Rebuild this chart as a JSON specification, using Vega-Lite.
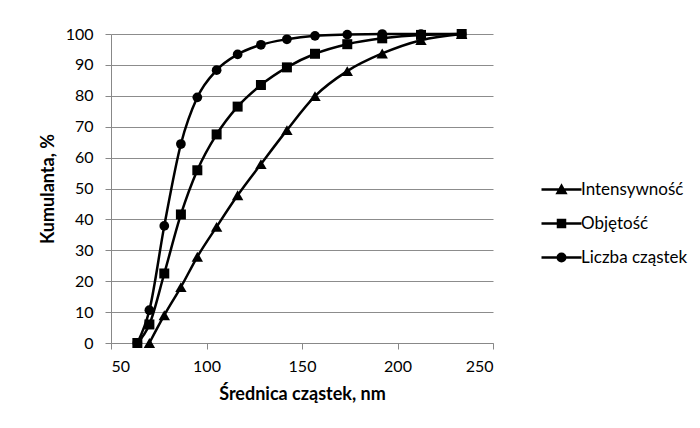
{
  "$schema": "https://vega.github.io/schema/vega-lite/v6.json",
  "width": 382,
  "height": 309,
  "autosize": "none",
  "padding": {"left": 111, "top": 34, "right": 207, "bottom": 85},
  "background": "white",
  "config": {
    "font": "Lato",
    "view": {"stroke": null},
    "axis": {
      "labelFont": "Lato", "labelFontSize": 16, "labelColor": "#000000",
      "titleFont": "Lato", "titleFontSize": 18, "titleFontWeight": "bold", "titleColor": "#000000",
      "domainColor": "#888888", "tickColor": "#888888", "gridColor": "#8c8c8c",
      "tickSize": 6, "domainWidth": 1, "tickWidth": 1, "gridWidth": 1
    }
  },
  "data": {
    "values": [
      {"d": 63.8, "v": 0, "s": "Liczba cząstek"},
      {"d": 70.1, "v": 10.6, "s": "Liczba cząstek"},
      {"d": 77.9, "v": 37.9, "s": "Liczba cząstek"},
      {"d": 86.6, "v": 64.4, "s": "Liczba cząstek"},
      {"d": 95.2, "v": 79.5, "s": "Liczba cząstek"},
      {"d": 105.3, "v": 88.3, "s": "Liczba cząstek"},
      {"d": 116.3, "v": 93.4, "s": "Liczba cząstek"},
      {"d": 128.5, "v": 96.5, "s": "Liczba cząstek"},
      {"d": 142.1, "v": 98.3, "s": "Liczba cząstek"},
      {"d": 156.8, "v": 99.4, "s": "Liczba cząstek"},
      {"d": 173.7, "v": 99.8, "s": "Liczba cząstek"},
      {"d": 192.0, "v": 100, "s": "Liczba cząstek"},
      {"d": 212.3, "v": 100, "s": "Liczba cząstek"},
      {"d": 233.6, "v": 100, "s": "Liczba cząstek"},
      {"d": 63.8, "v": 0, "s": "Objętość"},
      {"d": 70.1, "v": 6.0, "s": "Objętość"},
      {"d": 77.9, "v": 22.5, "s": "Objętość"},
      {"d": 86.6, "v": 41.6, "s": "Objętość"},
      {"d": 95.2, "v": 55.9, "s": "Objętość"},
      {"d": 105.3, "v": 67.5, "s": "Objętość"},
      {"d": 116.3, "v": 76.5, "s": "Objętość"},
      {"d": 128.5, "v": 83.5, "s": "Objętość"},
      {"d": 142.1, "v": 89.2, "s": "Objętość"},
      {"d": 156.8, "v": 93.6, "s": "Objętość"},
      {"d": 173.7, "v": 96.7, "s": "Objętość"},
      {"d": 192.0, "v": 98.6, "s": "Objętość"},
      {"d": 212.3, "v": 99.7, "s": "Objętość"},
      {"d": 233.6, "v": 100, "s": "Objętość"},
      {"d": 70.1, "v": 0, "s": "Intensywność"},
      {"d": 77.9, "v": 9.0, "s": "Intensywność"},
      {"d": 86.6, "v": 18.1, "s": "Intensywność"},
      {"d": 95.2, "v": 27.9, "s": "Intensywność"},
      {"d": 105.3, "v": 37.6, "s": "Intensywność"},
      {"d": 116.3, "v": 47.8, "s": "Intensywność"},
      {"d": 128.5, "v": 57.9, "s": "Intensywność"},
      {"d": 142.1, "v": 68.9, "s": "Intensywność"},
      {"d": 156.8, "v": 79.9, "s": "Intensywność"},
      {"d": 173.7, "v": 88.0, "s": "Intensywność"},
      {"d": 192.0, "v": 93.7, "s": "Intensywność"},
      {"d": 212.3, "v": 98.0, "s": "Intensywność"},
      {"d": 233.6, "v": 100, "s": "Intensywność"}
    ]
  },
  "encoding": {
    "x": {
      "field": "d", "type": "quantitative",
      "scale": {"domain": [50, 250], "nice": false, "zero": false},
      "axis": {"values": [50, 100, 150, 200, 250], "grid": false, "title": "Średnica cząstek, nm", "labelPadding": 9, "titlePadding": 11}
    },
    "y": {
      "field": "v", "type": "quantitative",
      "scale": {"domain": [0, 100], "nice": false},
      "axis": {"values": [0, 10, 20, 30, 40, 50, 60, 70, 80, 90, 100], "grid": true, "title": "Kumulanta, %", "labelPadding": 12, "titlePadding": 8}
    },
    "color": {
      "field": "s", "type": "nominal",
      "scale": {"domain": ["Intensywność", "Objętość", "Liczba cząstek"], "range": ["#000000", "#000000", "#000000"]},
      "legend": {
        "title": null,
        "orient": "none",
        "legendX": 442,
        "legendY": 147,
        "symbolSize": 100,
        "symbolStrokeColor": "#000000",
        "symbolFillColor": "#000000",
        "symbolStrokeWidth": 2.5,
        "symbolOpacity": 1,
        "rowPadding": 16,
        "labelOffset": 11,
        "labelFont": "Lato",
        "labelFontSize": 17,
        "labelColor": "#000000",
        "encode": {
          "symbols": {
            "update": {
              "shape": {"signal": "datum.value === 'Intensywność' ? 'M-4,0H4M-0.8,0.7L0,-0.75L0.8,0.7Z' : datum.value === 'Objętość' ? 'M-4,0H4M-0.7,-0.7H0.7V0.7H-0.7Z' : 'M-4,0H4M-0.75,0A0.75,0.75,0,1,0,0.75,0A0.75,0.75,0,1,0,-0.75,0Z'"},
              "fill": {"value": "#000000"},
              "stroke": {"value": "#000000"},
              "strokeWidth": {"value": 2.5},
              "opacity": {"value": 1}
            }
          }
        }
      }
    }
  },
  "layer": [
    {
      "mark": {"type": "line", "interpolate": "monotone", "strokeWidth": 2.5}
    },
    {
      "transform": [{"filter": "datum.s === 'Intensywność'"}],
      "mark": {"type": "point", "shape": "triangle-up", "filled": true, "opacity": 1, "size": 130}
    },
    {
      "transform": [{"filter": "datum.s === 'Objętość'"}],
      "mark": {"type": "point", "shape": "square", "filled": true, "opacity": 1, "size": 100}
    },
    {
      "transform": [{"filter": "datum.s === 'Liczba cząstek'"}],
      "mark": {"type": "point", "shape": "circle", "filled": true, "opacity": 1, "size": 95}
    }
  ]
}
